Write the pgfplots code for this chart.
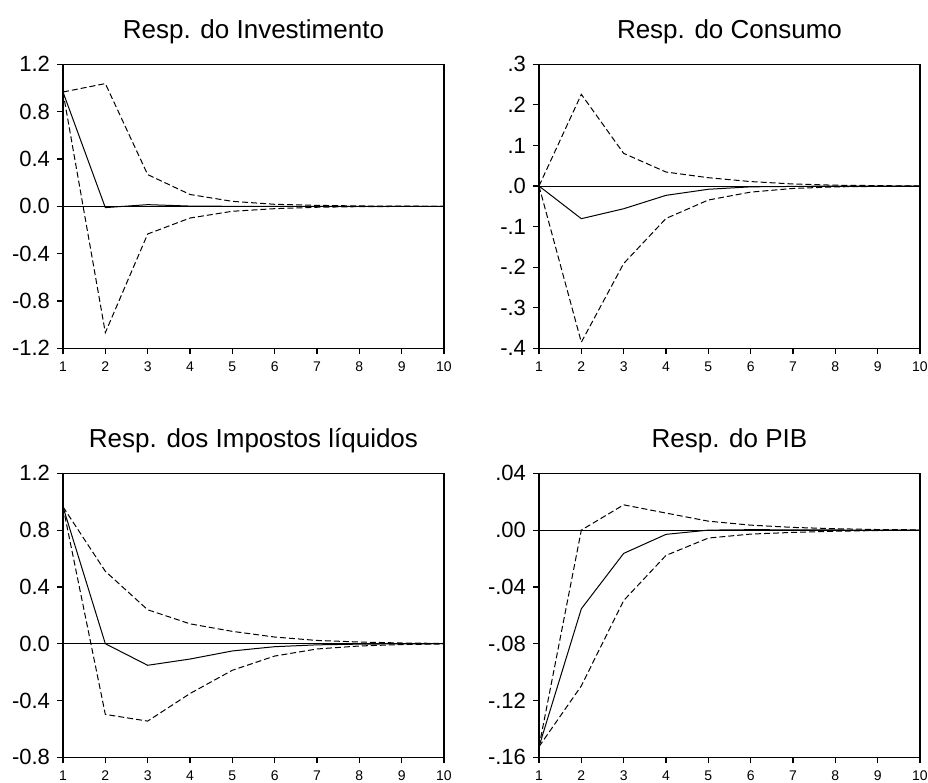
\documentclass[border=0pt]{standalone}
\usepackage{fontspec}
\setmainfont{Liberation Sans}
\usepackage{pgfplots}
\pgfplotsset{compat=1.18}
\pgfplotsset{
  irf/.style={
    scale only axis, width=190.5pt, height=142pt,
    anchor=south west,
    xmin=1, xmax=10, xtick={1,...,10},
    tick align=outside, xtick pos=left, ytick pos=left,
    major tick length=3pt,
    axis line style={line width=0.8pt},
    every tick/.style={black, line width=0.6pt},
    /pgf/number format/assume math mode=true,
    xticklabel style={font=\fontsize{7}{8}\selectfont},
    yticklabel style={font=\fontsize{11}{12}\selectfont},
    title style={font=\fontsize{13}{14}\selectfont, at={(0.5,1)}, anchor=base, yshift=7pt},
  },
  resp/.style={black, line width=0.5pt},
  band/.style={black, line width=0.5pt, dash pattern=on 3pt off 1.5pt},
  zero/.style={black, line width=0.5pt},
}
\begin{document}
\begin{tikzpicture}
\path[use as bounding box] (0,0) rectangle (464pt,-391.5pt);

% Panel 1
\begin{axis}[irf, at={(31.5pt,-174.15pt)},
  title={Resp. do Investimento},
  ymin=-1.2, ymax=1.2,
  ytick={-1.2,-0.8,-0.4,0,0.4,0.8,1.2},
  yticklabels={-1.2,-0.8,-0.4,0.0,0.4,0.8,1.2}]
\addplot[zero] coordinates {(1,0) (10,0)};
\addplot[band] coordinates {(1,0.966) (2,1.037) (3,0.268) (4,0.100) (5,0.042) (6,0.017) (7,0.008) (8,0.003) (9,0.001) (10,0.0)};
\addplot[resp] coordinates {(1,0.966) (2,-0.011) (3,0.014) (4,0.002) (5,0.0) (6,0.0) (7,0.0) (8,0.0) (9,0.0) (10,0.0)};
\addplot[band] coordinates {(1,0.966) (2,-1.068) (3,-0.234) (4,-0.099) (5,-0.042) (6,-0.020) (7,-0.008) (8,-0.003) (9,-0.001) (10,0.0)};
\end{axis}

% Panel 2
\begin{axis}[irf, at={(269.5pt,-174.15pt)},
  title={Resp. do Consumo},
  ymin=-0.4, ymax=0.3,
  ytick={-0.4,-0.3,-0.2,-0.1,0,0.1,0.2,0.3},
  yticklabels={-.4,-.3,-.2,-.1,.0,.1,.2,.3}]
\addplot[zero] coordinates {(1,0) (10,0)};
\addplot[band] coordinates {(1,0) (2,0.226) (3,0.0805) (4,0.0345) (5,0.0205) (6,0.011) (7,0.005) (8,0.002) (9,0.001) (10,0.0)};
\addplot[resp] coordinates {(1,0) (2,-0.0805) (3,-0.056) (4,-0.023) (5,-0.008) (6,-0.002) (7,-0.001) (8,0.0) (9,0.0) (10,0.0)};
\addplot[band] coordinates {(1,0) (2,-0.385) (3,-0.191) (4,-0.080) (5,-0.0345) (6,-0.015) (7,-0.006) (8,-0.002) (9,-0.001) (10,0.0)};
\end{axis}

% Panel 3
\begin{axis}[irf, at={(31.5pt,-378.65pt)},
  title={Resp. dos Impostos líquidos},
  ymin=-0.8, ymax=1.2,
  ytick={-0.8,-0.4,0,0.4,0.8,1.2},
  yticklabels={-0.8,-0.4,0.0,0.4,0.8,1.2}]
\addplot[zero] coordinates {(1,0) (10,0)};
\addplot[band] coordinates {(1,0.964) (2,0.510) (3,0.239) (4,0.140) (5,0.087) (6,0.047) (7,0.023) (8,0.012) (9,0.005) (10,0.002)};
\addplot[resp] coordinates {(1,0.964) (2,0.0) (3,-0.152) (4,-0.108) (5,-0.051) (6,-0.021) (7,-0.008) (8,-0.003) (9,-0.001) (10,0.0)};
\addplot[band] coordinates {(1,0.964) (2,-0.498) (3,-0.545) (4,-0.351) (5,-0.187) (6,-0.087) (7,-0.037) (8,-0.016) (9,-0.006) (10,-0.002)};
\end{axis}

% Panel 4
\begin{axis}[irf, at={(269.5pt,-378.65pt)},
  title={Resp. do PIB},
  ymin=-0.16, ymax=0.04,
  ytick={-0.16,-0.12,-0.08,-0.04,0,0.04},
  yticklabels={-.16,-.12,-.08,-.04,.00,.04}]
\addplot[zero] coordinates {(1,0) (10,0)};
\addplot[band] coordinates {(1,-0.1525) (2,0.0) (3,0.0178) (4,0.012) (5,0.0063) (6,0.0035) (7,0.0019) (8,0.001) (9,0.0004) (10,0.0002)};
\addplot[resp] coordinates {(1,-0.1525) (2,-0.0554) (3,-0.0164) (4,-0.003) (5,0.0) (6,0.0003) (7,0.0002) (8,0.0001) (9,0.0) (10,0.0)};
\addplot[band] coordinates {(1,-0.1525) (2,-0.1097) (3,-0.0496) (4,-0.0178) (5,-0.0056) (6,-0.0028) (7,-0.0016) (8,-0.0008) (9,-0.0003) (10,-0.0001)};
\end{axis}
\end{tikzpicture}
\end{document}
